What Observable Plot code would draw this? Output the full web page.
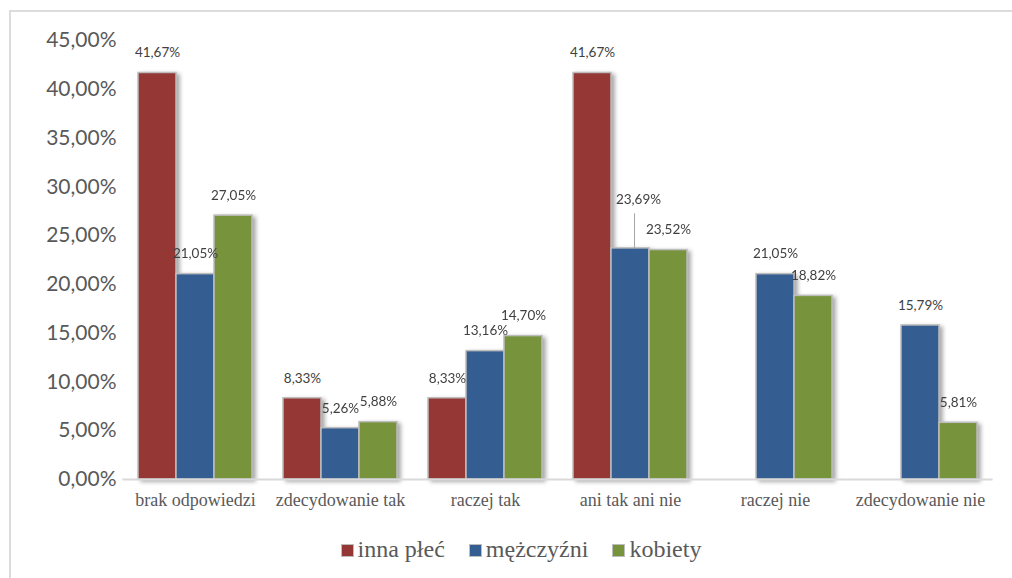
<!DOCTYPE html>
<html>
<head>
<meta charset="utf-8">
<script src="https://cdn.jsdelivr.net/npm/d3@7"></script>
<script src="https://cdn.jsdelivr.net/npm/@observablehq/plot@0.6"></script>
<style>
  html, body { margin: 0; padding: 0; background: #fff; }
  body { width: 1012px; height: 578px; overflow: hidden; position: relative; }
  #frame { position: absolute; left: 9px; top: 10px; width: 1010px; height: 580px;
           border-top: 2px solid #dcdcdc; border-left: 2px solid #dcdcdc; box-sizing: border-box; }
  #chart { position: absolute; left: 0; top: 0; }
  #legend { position: absolute; left: 0; top: 527px; width: 1012px; height: 44px;
            display: flex; justify-content: center; align-items: center; padding-left: 30px; box-sizing: border-box;
            font-family: "Liberation Serif", "Times New Roman", serif; font-size: 24px; color: #595959; }
  .item { display: flex; align-items: center; margin: 0 12px; }
  .sw { width: 11px; height: 11px; border: 1.5px solid #bdbdbd; margin-right: 4px; margin-top: 2px; }
</style>
</head>
<body>
<div id="frame"></div>
<div id="chart"></div>
<div id="legend"></div>
<script>
const categories = ["brak odpowiedzi", "zdecydowanie tak", "raczej tak", "ani tak ani nie", "raczej nie", "zdecydowanie nie"];
const series = ["inna płeć", "mężczyźni", "kobiety"];
const innaPlec  = [41.67, 8.33, 8.33, 41.67, 0, 0];
const mezczyzni = [21.05, 5.26, 13.16, 23.69, 21.05, 15.79];
const kobiety   = [27.05, 5.88, 14.70, 23.52, 18.82, 5.81];
const yTicks = [0, 5, 10, 15, 20, 25, 30, 35, 40, 45];
const colors = ["#953735", "#345e91", "#77933c"];

const seriesValues = [innaPlec, mezczyzni, kobiety];
const rows = categories.flatMap((c, i) => series.map((s, j) => ({cat: c, series: s, v: seriesValues[j][i]})));
const bars = rows.filter(d => d.v > 0);
const pct = v => v.toFixed(2).replace(".", ",") + "%";
const isLifted = d => d.cat === "ani tak ani nie" && d.series === "mężczyźni";

const chart = Plot.plot({
  width: 1012,
  height: 525,
  marginLeft: 121,
  marginRight: 18,
  marginTop: 40,
  marginBottom: 46,
  style: {background: "transparent", fontFamily: "Lato, sans-serif"},
  fx: {domain: categories, paddingInner: 0.2, paddingOuter: 0.1, label: null},
  x: {domain: series, padding: 0, axis: null},
  y: {domain: [0, 45], axis: null},
  color: {domain: series, range: colors},
  marks: [
    Plot.axisY({ticks: yTicks, tickSize: 0, tickPadding: 21, tickFormat: pct, fontSize: 21,
                fill: "#595959", label: null, fontFamily: "Lato, sans-serif"}),
    Plot.axisFx({anchor: "bottom", tickSize: 0, tickPadding: 14, fontSize: 18,
                 fontFamily: "Liberation Serif", fill: "#595959", label: null}),
    Plot.barY(bars, {fx: "cat", x: "series", y: "v", fill: "series", stroke: "#bdbdbd", strokeWidth: 1.5}),
    Plot.ruleY([0], {stroke: "#d9d9d9", strokeWidth: 2, insetLeft: -14.6, insetRight: -14.6}),
    Plot.text(bars.filter(d => !isLifted(d)), {fx: "cat", x: "series", y: "v", text: d => pct(d.v),
              dy: -20, fontSize: 13.5, fill: "#404040", fontFamily: "Lato, sans-serif"}),
    Plot.text(bars.filter(isLifted), {fx: "cat", x: "series", y: "v", text: d => pct(d.v),
              dy: -49, dx: 8, fontSize: 13.5, fill: "#404040", fontFamily: "Lato, sans-serif"}),
    Plot.link(bars.filter(isLifted), {fx: "cat", x1: "series", x2: "series", y1: "v", y2: d => d.v + 3.6,
              dx: 4, stroke: "#a6a6a6", strokeWidth: 1})
  ]
});
document.getElementById("chart").appendChild(chart);
chart.querySelectorAll('g[aria-label="bar"]').forEach(g => {
  g.style.filter = "drop-shadow(3px 2px 2px rgba(0,0,0,0.35))";
});

const legend = document.getElementById("legend");
series.forEach((s, i) => {
  const item = document.createElement("div");
  item.className = "item";
  const sw = document.createElement("div");
  sw.className = "sw";
  sw.style.background = colors[i];
  const t = document.createElement("span");
  t.textContent = s;
  item.appendChild(sw);
  item.appendChild(t);
  legend.appendChild(item);
});
</script>
</body>
</html>
